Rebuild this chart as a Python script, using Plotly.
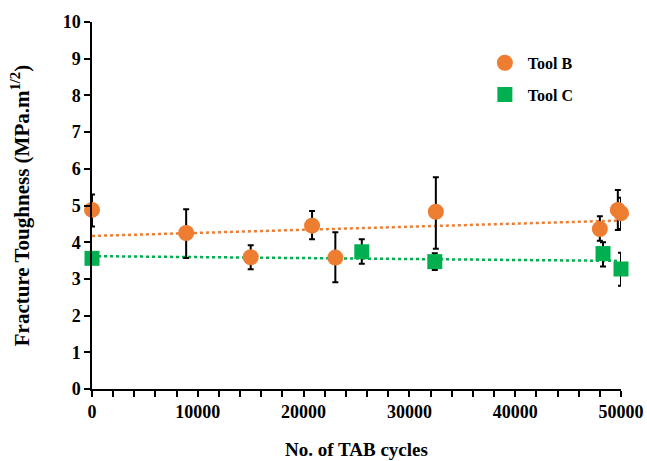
import plotly.graph_objects as go

# Tool B data
b_cycles = [0, 8900, 15000, 20800, 23000, 32500, 48000, 49700, 50000]
b_kic = [4.88, 4.25, 3.59, 4.45, 3.58, 4.83, 4.36, 4.88, 4.79]
b_err_plus = [0.42, 0.65, 0.33, 0.40, 0.69, 0.94, 0.35, 0.54, 0.42]
b_err_minus = [0.45, 0.68, 0.33, 0.37, 0.67, 1.01, 0.32, 0.55, 0.43]

# Tool C data
c_cycles = [0, 25500, 32400, 48300, 50000]
c_kic = [3.56, 3.74, 3.47, 3.69, 3.27]
c_err_plus = [0.0, 0.34, 0.23, 0.31, 0.44]
c_err_minus = [0.0, 0.33, 0.23, 0.35, 0.46]

# Linear trend lines (start/end values)
trend_x = [0, 50000]
trend_b = [4.17, 4.59]
trend_c = [3.62, 3.49]

orange = "#ED7D31"
green = "#00B050"
FF = "Liberation Serif, Times New Roman, serif"


def bold(size):
    return dict(family=FF, size=size, color="black", weight="bold")


fig = go.Figure()

fig.add_trace(go.Scatter(
    x=trend_x, y=trend_b, mode="lines",
    line=dict(color=orange, width=2.5, dash="dot"),
    showlegend=False, hoverinfo="skip"))
fig.add_trace(go.Scatter(
    x=trend_x, y=trend_c, mode="lines",
    line=dict(color=green, width=2.5, dash="dot"),
    showlegend=False, hoverinfo="skip"))

fig.add_trace(go.Scatter(
    x=b_cycles, y=b_kic, mode="markers", name="Tool B", legendgroup="b",
    marker=dict(symbol="circle", size=16, color=orange),
    error_y=dict(type="data", array=b_err_plus, arrayminus=b_err_minus,
                 color="black", thickness=2, width=3),
    cliponaxis=False))
fig.add_trace(go.Scatter(
    x=c_cycles, y=c_kic, mode="markers", name="Tool C", legendgroup="c",
    marker=dict(symbol="square", size=15, color=green),
    error_y=dict(type="data", array=c_err_plus, arrayminus=c_err_minus,
                 color="black", thickness=2, width=3),
    cliponaxis=False))

fig.update_layout(
    width=647, height=461,
    margin=dict(l=92, r=26, t=22, b=72),
    paper_bgcolor="white", plot_bgcolor="white",
    font=bold(18),
    showlegend=True,
    legend=dict(x=0.737, y=0.935, xanchor="left", yanchor="top",
                font=bold(16), itemwidth=36,
                traceorder="grouped", tracegroupgap=8,
                bgcolor="rgba(0,0,0,0)"),
    xaxis=dict(
        range=[0, 50000], dtick=10000, tick0=0, automargin=False,
        showgrid=False, zeroline=False,
        showline=True, linecolor="black", linewidth=1.5,
        ticks="outside", ticklen=6, tickwidth=1.5, tickcolor="black",
        minor=dict(dtick=2000, ticks="outside", ticklen=6, tickwidth=1.5,
                   tickcolor="black", showgrid=False),
        tickfont=bold(18),
        title=dict(text="No. of TAB cycles", standoff=21, font=bold(19)),
        tickformat="d"),
    yaxis=dict(
        range=[0, 10], dtick=1, tick0=0, automargin=False,
        showgrid=False, zeroline=False,
        showline=True, linecolor="black", linewidth=1.5,
        ticks="outside", ticklen=6, tickwidth=1.5, tickcolor="black",
        tickfont=bold(18),
        title=dict(text="Fracture Toughness (MPa.m<sup>1/2</sup>)",
                   standoff=27, font=bold(21))),
)

fig.write_html(
    "out.html",
    config={"displayModeBar": False},
    post_script="document.body.style.margin='0';document.body.style.overflow='hidden';",
)
